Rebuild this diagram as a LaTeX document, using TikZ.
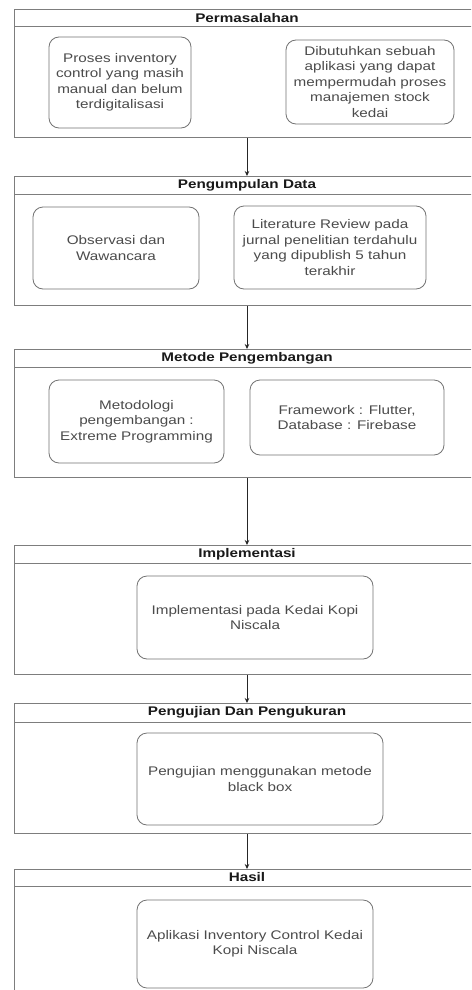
\documentclass[tikz,border=0pt]{standalone}
\usepackage{fontspec}
\setmainfont{Liberation Sans}[FakeStretch=1.22]
\usetikzlibrary{arrows.meta}
\definecolor{framegray}{RGB}{125,125,125}
\definecolor{itemgray}{RGB}{115,115,115}
\definecolor{textgray}{RGB}{75,75,75}
\tikzset{
  frame/.style={draw=framegray, line width=1pt, minimum width=466pt, anchor=north, inner sep=0pt},
  band/.style={draw=framegray, line width=1pt},
  item/.style={draw=itemgray, line width=0.8pt, rounded corners=10pt, align=center, text=textgray,
    font=\fontsize{12.5}{15.5}\selectfont, inner sep=0pt},
  title/.style={font=\bfseries\fontsize{12.5}{15}\selectfont, text=black!90},
  flow/.style={-{Stealth[length=5pt,width=4.5pt]}, line width=0.8pt, draw=black!85},
}
\begin{document}
\begin{tikzpicture}[x=1pt,y=-1pt]
\useasboundingbox (0,0) rectangle (471,990);
\clip (0,0) rectangle (471,990);
\fill[white] (0,0) rectangle (471,990);

% ---- frames ----
\node[frame, minimum height=128pt] (f1) at (247,9) {};
\draw[band] (14,27) -- (480,27);
\node[title] (t1) at (247,18) {Permasalahan};

\node[frame, minimum height=129pt] (f2) at (247,176) {};
\draw[band] (14,194) -- (480,194);
\node[title] (t2) at (247,185) {Pengumpulan Data};

\node[frame, minimum height=128pt] (f3) at (247,349) {};
\draw[band] (14,367) -- (480,367);
\node[title] (t3) at (247,358) {Metode Pengembangan};

\node[frame, minimum height=129pt] (f4) at (247,545) {};
\draw[band] (14,563) -- (480,563);
\node[title] (t4) at (247,554) {Implementasi};

\node[frame, minimum height=130pt] (f5) at (247,703) {};
\draw[band] (14,722) -- (480,722);
\node[title] (t5) at (247,712.5) {Pengujian Dan Pengukuran};

\node[frame, minimum height=160pt] (f6) at (247,869) {};
\draw[band] (14,886) -- (480,886);
\node[title] (t6) at (247,877.5) {Hasil};

% ---- items ----
\node[item, minimum width=142pt, minimum height=91pt] (a1) at (120,82.5)
  {Proses inventory\\control yang masih\\manual dan belum\\terdigitalisasi};
\node[item, minimum width=168pt, minimum height=84pt] (a2) at (370,82)
  {Dibutuhkan sebuah\\aplikasi yang dapat\\mempermudah proses\\manajemen stock\\kedai};

\node[item, minimum width=166pt, minimum height=82pt] (b1) at (116,248)
  {Observasi dan\\Wawancara};
\node[item, minimum width=192pt, minimum height=83pt] (b2) at (330,247.5)
  {Literature Review pada\\jurnal penelitian terdahulu\\yang dipublish 5 tahun\\terakhir};

\node[item, minimum width=175pt, minimum height=83pt] (c1) at (136.5,421.5)
  {Metodologi\\pengembangan :\\Extreme Programming};
\node[item, minimum width=194pt, minimum height=75pt] (c2) at (347,417.5)
  {Framework : Flutter,\\Database : Firebase};

\node[item, minimum width=236pt, minimum height=83pt] (d1) at (255,617.5)
  {Implementasi pada Kedai Kopi\\Niscala};

\node[item, minimum width=246pt, minimum height=92pt] (e1) at (260,779)
  {Pengujian menggunakan metode\\black box};

\node[item, minimum width=236pt, minimum height=88pt] (g1) at (255,944)
  {Aplikasi Inventory Control Kedai\\Kopi Niscala};

% ---- connectors ----
\draw[flow] (f1.south) -- (f2.north);
\draw[flow] (f2.south) -- (f3.north);
\draw[flow] (f3.south) -- (f4.north);
\draw[flow] (f4.south) -- (f5.north);
\draw[flow] (f5.south) -- (f6.north);
\end{tikzpicture}
\end{document}
